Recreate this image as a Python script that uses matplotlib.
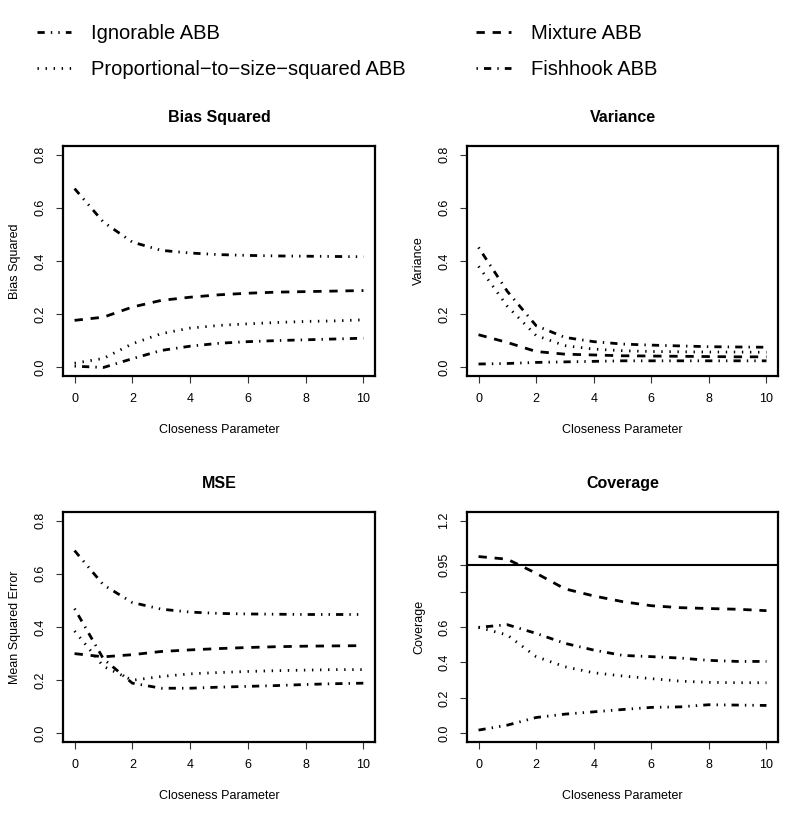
import matplotlib
matplotlib.use("Agg")
import matplotlib.pyplot as plt
import numpy as np

plt.rcParams['font.family'] = ['Liberation Sans', 'DejaVu Sans']

# closeness parameter
closeness = [0, 1, 2, 3, 4, 5, 6, 7, 8, 9, 10]

methods = ["Ignorable ABB", "Proportional\u2212to\u2212size\u2212squared ABB",
           "Mixture ABB", "Fishhook ABB"]
IGN, PROP, MIX, FISH = methods

bias_sq = {
    IGN: [0.672, 0.546, 0.471, 0.440, 0.430, 0.424, 0.421, 0.419, 0.418, 0.417, 0.416],
    PROP: [0.016, 0.034, 0.089, 0.127, 0.148, 0.158, 0.164, 0.169, 0.173, 0.175, 0.179],
    MIX: [0.177, 0.189, 0.227, 0.252, 0.264, 0.273, 0.279, 0.283, 0.285, 0.287, 0.289],
    FISH: [0.005, 0.000, 0.033, 0.064, 0.080, 0.091, 0.097, 0.101, 0.104, 0.107, 0.110],
}

variance = {
    IGN: [0.013, 0.015, 0.019, 0.021, 0.023, 0.025, 0.025, 0.025, 0.025, 0.025, 0.025],
    PROP: [0.380, 0.230, 0.120, 0.082, 0.069, 0.063, 0.060, 0.059, 0.058, 0.058, 0.057],
    MIX: [0.123, 0.094, 0.060, 0.050, 0.047, 0.044, 0.043, 0.042, 0.041, 0.040, 0.040],
    FISH: [0.451, 0.286, 0.157, 0.113, 0.097, 0.088, 0.084, 0.081, 0.078, 0.077, 0.076],
}

mse = {
    IGN: [0.687, 0.558, 0.492, 0.467, 0.456, 0.451, 0.449, 0.448, 0.447, 0.447, 0.447],
    PROP: [0.385, 0.252, 0.200, 0.214, 0.224, 0.229, 0.233, 0.236, 0.238, 0.240, 0.240],
    MIX: [0.300, 0.288, 0.296, 0.308, 0.314, 0.319, 0.323, 0.326, 0.328, 0.329, 0.330],
    FISH: [0.469, 0.280, 0.189, 0.170, 0.170, 0.174, 0.177, 0.180, 0.184, 0.187, 0.189],
}

coverage = {
    IGN: [0.019, 0.047, 0.090, 0.109, 0.122, 0.135, 0.147, 0.150, 0.162, 0.160, 0.158],
    PROP: [0.598, 0.555, 0.433, 0.376, 0.342, 0.324, 0.309, 0.295, 0.288, 0.286, 0.286],
    MIX: [0.997, 0.982, 0.903, 0.815, 0.775, 0.743, 0.720, 0.709, 0.704, 0.700, 0.692],
    FISH: [0.598, 0.613, 0.564, 0.508, 0.470, 0.440, 0.433, 0.425, 0.412, 0.406, 0.406],
}

styles = {
    IGN: (0, (2.6, 2.2, 0.5, 2.2, 0.5, 2.2)),
    PROP: (0, (0.5, 2.4)),
    MIX: (0, (3.0, 2.8)),
    FISH: (0, (0.5, 2.2, 2.6, 2.2)),
}

panels = [
    ("Bias Squared", "Bias Squared", bias_sq),
    ("Variance", "Variance", variance),
    ("MSE", "Mean Squared Error", mse),
    ("Coverage", "Coverage", coverage),
]

fig = plt.figure(figsize=(7.98, 8.18), dpi=100)
W, H = 798, 818
boxes = [(63, 146, 375, 376), (467, 146, 778, 376),
         (63, 512, 375, 742), (467, 512, 778, 742)]

handles = {}
for (title, ylab, data), (l, t, r, b) in zip(panels, boxes):
    ax = fig.add_axes([l / W, 1 - b / H, (r - l) / W, (b - t) / H])
    for m in methods:
        ln, = ax.plot(closeness, data[m], color='black', lw=2,
                      linestyle=styles[m], label=m)
        handles[m] = ln
    ax.set_xlim(-0.4, 10.4)
    if title == "Coverage":
        ax.axhline(0.95, color='black', lw=1.5)
        ax.set_ylim(-0.048, 1.248)
        ax.set_yticks([0, 0.2, 0.4, 0.6, 0.8, 0.95, 1.2])
        ax.set_yticklabels(['0.0', '0.2', '0.4', '0.6', '', '0.95', '1.2'])
    else:
        ax.set_ylim(-0.032, 0.832)
        ax.set_yticks([0, 0.2, 0.4, 0.6, 0.8])
        ax.set_yticklabels(['0.0', '0.2', '0.4', '0.6', '0.8'])
    ax.set_xticks([0, 2, 4, 6, 8, 10])
    ax.tick_params(direction='out', length=5, width=0.8, labelsize=9, pad=7,
                   color='#333333')
    ax.tick_params(axis='y', labelrotation=90)
    for lab in ax.get_yticklabels():
        lab.set_va('center')
    for s in ax.spines.values():
        s.set_linewidth(1.6)
    ax.set_title(title, fontsize=11.5, fontweight='bold', pad=17)
    ax.set_xlabel("Closeness Parameter", fontsize=9)
    ax.set_ylabel(ylab, fontsize=9)
    ax.xaxis.set_label_coords(0.5, -0.21)
    ax.yaxis.set_label_coords(-0.135, 0.5)

fig.legend([handles[m] for m in methods], methods, ncol=2,
           loc='upper left', bbox_to_anchor=(37 / W, 1 - 24 / H),
           frameon=False, fontsize=14.5, handlelength=1.7,
           handletextpad=1.0, columnspacing=3.5, labelspacing=0.83,
           borderpad=0, borderaxespad=0)

fig.savefig("out.png", dpi=100)
